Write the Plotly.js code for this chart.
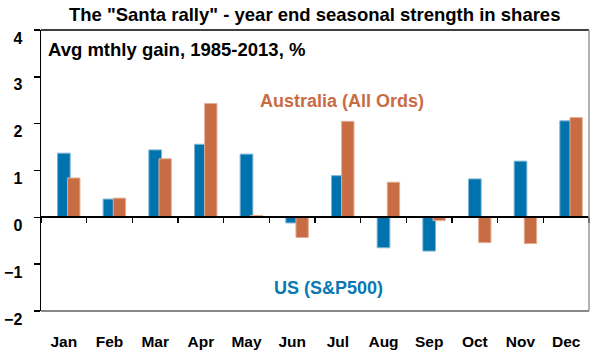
<!DOCTYPE html>
<html>
<head>
<meta charset="utf-8">
<script src="https://cdn.plot.ly/plotly-3.0.1.min.js"></script>
<style>html,body{margin:0;padding:0;background:#fff;}#chart{width:596px;height:355px;}</style>
</head>
<body>
<div id="chart"></div>
<script>
const months = ["Jan","Feb","Mar","Apr","May","Jun","Jul","Aug","Sep","Oct","Nov","Dec"];
const usSP500 = [1.37, 0.39, 1.44, 1.56, 1.35, -0.12, 0.89, -0.65, -0.72, 0.82, 1.20, 2.06];
const ausAllOrds = [0.84, 0.41, 1.25, 2.43, 0.04, -0.43, 2.05, 0.75, -0.07, -0.54, -0.56, 2.13];
const yTicks = [-2, -1, 0, 1, 2, 3, 4];

const FONT = "Liberation Sans, Arial, sans-serif";
const BLUE = "#0072AD";
const ORANGE = "#C86C44";

const traces = [
  {
    type: "bar", name: "US (S&P500)", x: months, y: usSP500,
    width: 0.278, offset: -0.139,
    marker: {color: BLUE, line: {color: "#7FB6D6", width: 1}},
    hoverinfo: "skip"
  },
  {
    type: "bar", name: "Australia (All Ords)", x: months, y: ausAllOrds,
    width: 0.27, offset: 0.083,
    marker: {color: ORANGE, line: {color: "#E3AC93", width: 1}},
    hoverinfo: "skip"
  },
  {
    type: "scatter", mode: "markers", x: months, y: months.map(() => 0),
    xaxis: "x2", yaxis: "y", marker: {opacity: 0}, hoverinfo: "skip", showlegend: false
  }
];

const zeroPos = (0 - yTicks[0]) / (yTicks[yTicks.length - 1] - yTicks[0]);

const layout = {
  width: 596, height: 355,
  margin: {l: 41, r: 7, t: 30, b: 44},
  paper_bgcolor: "#fff", plot_bgcolor: "#fff",
  showlegend: false,
  barmode: "overlay",
  font: {family: FONT, color: "#000"},
  title: {
    text: "The \"Santa rally\" - year end seasonal strength in shares",
    font: {family: FONT, size: 18.5, weight: "bold", color: "#000"},
    x: 0.528, xanchor: "center", y: 0.958, yanchor: "middle"
  },
  xaxis: {
    type: "category", categoryorder: "array", categoryarray: months,
    range: [-0.5, 11.5], showline: false, showgrid: false, zeroline: false,
    ticks: "", tickfont: {family: FONT, size: 15.5, weight: "bold", color: "#000"},
    ticklabelstandoff: 19, fixedrange: true
  },
  xaxis2: {
    type: "category", categoryorder: "array", categoryarray: months,
    range: [-0.5, 11.5], overlaying: "x", anchor: "free", position: zeroPos,
    showline: true, linecolor: "#000", linewidth: 2, showgrid: false, zeroline: false,
    ticks: "outside", tickson: "boundaries", ticklen: 5, tickwidth: 1.5, tickcolor: "#000",
    showticklabels: false, fixedrange: true
  },
  yaxis: {
    range: [yTicks[0], yTicks[yTicks.length - 1]], tickvals: yTicks,
    showline: true, linecolor: "#000", linewidth: 1.5, showgrid: false, zeroline: false,
    ticks: "outside", ticklen: 6, tickwidth: 1.5, tickcolor: "#000",
    tickfont: {family: FONT, size: 16, weight: "bold", color: "#000"},
    ticklabelstandoff: 8, ticklabelshift: 8,
    fixedrange: true
  },
  shapes: [
    {type: "line", xref: "paper", yref: "paper", x0: 0, x1: 1, y0: 1, y1: 1, line: {color: "#000", width: 1.5}},
    {type: "line", xref: "paper", yref: "paper", x0: 1, x1: 1, y0: 0, y1: 1, line: {color: "#999", width: 1.5}},
    {type: "line", xref: "paper", yref: "paper", x0: 0, x1: 1, y0: 0, y1: 0, line: {color: "#888", width: 2}}
  ],
  annotations: [
    {text: "Avg mthly gain, 1985-2013, %", xref: "paper", yref: "paper", x: 0.01, y: 0.93,
     xanchor: "left", yanchor: "middle", showarrow: false,
     font: {family: FONT, size: 18.5, weight: "bold", color: "#000"}},
    {text: "Australia (All Ords)", xref: "paper", yref: "paper", x: 0.549, y: 0.748,
     xanchor: "center", yanchor: "middle", showarrow: false,
     font: {family: FONT, size: 18, weight: "bold", color: ORANGE}},
    {text: "US (S&P500)", xref: "paper", yref: "paper", x: 0.524, y: 0.082,
     xanchor: "center", yanchor: "middle", showarrow: false,
     font: {family: FONT, size: 18, weight: "bold", color: "#0A78B4"}}
  ]
};

Plotly.newPlot("chart", traces, layout, {displayModeBar: false, staticPlot: true});
</script>
</body>
</html>
